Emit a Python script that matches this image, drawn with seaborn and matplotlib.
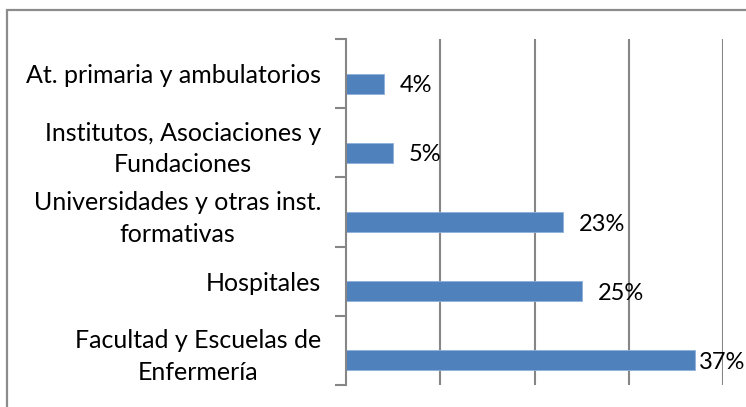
import matplotlib
matplotlib.use("Agg")
import matplotlib.pyplot as plt
import seaborn as sns
import pandas as pd
from matplotlib.patches import Rectangle

categories = [
    "At. primaria y ambulatorios",
    "Institutos, Asociaciones y\nFundaciones",
    "Universidades y otras inst.\nformativas",
    "Hospitales",
    "Facultad y Escuelas de\nEnfermería",
]
values = [4, 5, 23, 25, 37]
value_labels = ["4%", "5%", "23%", "25%", "37%"]
x_grid = [0, 10, 20, 30, 40]

sns.set_theme(style="white")
plt.rcParams["font.family"] = ["Lato", "DejaVu Sans"]

W, H = 746, 407
fig = plt.figure(figsize=(W / 100, H / 100), dpi=100)
ax = fig.add_axes([346 / W, 1 - 385 / H, (723 - 346) / W, (385 - 39) / H])

df = pd.DataFrame({"cat": categories, "val": values})
bar_h = 0.29
sns.barplot(data=df, y="cat", x="val", orient="h", color="#4F81BD",
            width=bar_h, edgecolor="#8EB0DA", linewidth=0.6, ax=ax, saturation=1)
# Excel-style placement: bar sits in lower half of band
for p in ax.patches:
    p.set_y(p.get_y() + bar_h / 2)

ax.set_xlim(0, 40)
ax.set_ylim(len(categories) - 0.5, -0.5)
ax.set_xticks(x_grid)
ax.set_xticklabels([])
ax.tick_params(axis="x", length=0)
for xv in x_grid[1:]:
    ax.axvline(xv, color="#868686", lw=1.5, zorder=0)

ax.set_yticks(range(len(categories)))
ax.set_yticklabels(categories, fontsize=18, color="black", ha="right",
                   multialignment="center", linespacing=1.45)
ax.tick_params(axis="y", which="major", length=0, pad=18)
ax.set_yticks([i - 0.5 for i in range(len(categories) + 1)], minor=True)
ax.tick_params(axis="y", which="minor", length=8, width=1.5, color="#868686", direction="out", left=True)

ax.set_xlabel("")
ax.set_ylabel("")
for s in ["top", "right", "bottom"]:
    ax.spines[s].set_visible(False)
ax.spines["left"].set_color("#868686")
ax.spines["left"].set_linewidth(1.5)

for i, (v, lab) in enumerate(zip(values, value_labels)):
    xpos = min(v + 1.7, 37.4)
    ax.text(xpos, i + bar_h / 2 + 0.03, lab, va="center", ha="left", fontsize=17, color="black", clip_on=False)

fig.patches.append(Rectangle((6.5 / W, -0.1), 2, 1.1 - 10 / H, transform=fig.transFigure,
                             fill=False, edgecolor="#8C8C8C", linewidth=1.6))

fig.savefig("out.png", dpi=100)
